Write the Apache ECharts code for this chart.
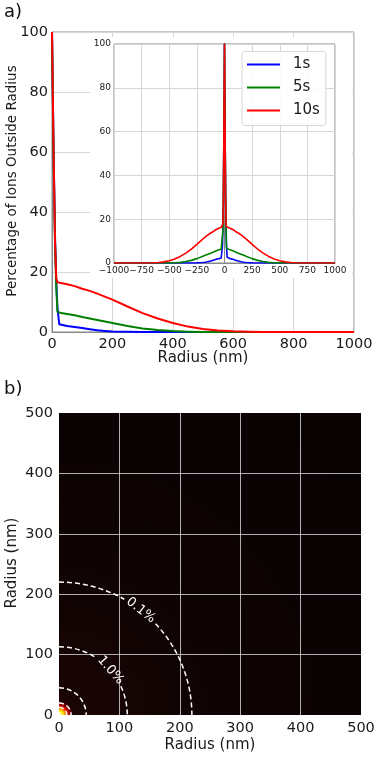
<!DOCTYPE html>
<html><head><meta charset="utf-8">
<script src="https://cdn.jsdelivr.net/npm/echarts@6/dist/echarts.min.js"></script>
<style>html,body{margin:0;padding:0;background:#fff}#c{width:377px;height:757px}</style>
</head><body><div id="c"></div>
<script>
// ---- data ----
const radius = [0,5,10,14,18,24,30,50,75,100,125,150,175,200,250,300,350,400,450,500,550,600,650,700,800,1000];
const pct1s  = [100,62,32,17,8,2.6,2.3,2.0,1.7,1.3,0.9,0.55,0.35,0.2,0.06,0.02,0,0,0,0,0,0,0,0,0,0];
const pct5s  = [100,60,30,15,6.8,6.4,6.3,6.0,5.6,5.0,4.5,4.0,3.5,3.0,2.0,1.2,0.65,0.3,0.12,0.04,0.01,0,0,0,0,0];
const pct10s = [100,62,30,18,16.6,16.4,16.3,15.9,15.3,14.4,13.7,12.8,11.8,10.8,8.5,6.3,4.5,3.0,1.8,1.0,0.5,0.22,0.08,0.02,0,0];
const seriesNames = ['1s','5s','10s'];
const heatRingRadius = [710,600,500,420,350,290,240,190,150,110,80,55,35,22,18,15,12,9,5];
const heatRingValue  = [0,0.02,0.04,0.07,0.1,0.13,0.16,0.2,0.24,0.28,0.32,0.36,0.4,0.5,0.6,0.7,0.8,0.9,1.0];
const contourRadius = [220,113,45,20,13];
const contourLabels = ['0.1%','1.0%','','',''];

// ---- build ----
const colors = ['#0000ff','#008000','#ff0000'];
const allPct = [pct1s, pct5s, pct10s];
const FONT = 'DejaVu Sans';
const mainData = allPct.map(p => radius.map((r,i)=>[r,p[i]]));
const insetData = allPct.map(p => {
  const neg = radius.slice(1).map((r,i)=>[-r,p[i+1]]).reverse();
  return neg.concat(radius.map((r,i)=>[r,p[i]]));
});
const labelAngleDeg = {0:52, 1:41};
const labelGap = {0:0.15, 1:0.28};

const series = [];
mainData.forEach((d,i)=>series.push({
  name: seriesNames[i], type:'line', xAxisIndex:0, yAxisIndex:0, data:d,
  showSymbol:false, symbol:'none', lineStyle:{color:colors[i], width:2, join:'round'}, itemStyle:{color:colors[i]},
  emphasis:{disabled:true}, silent:true, z:2
}));
insetData.forEach((d,i)=>series.push({
  name: seriesNames[i], type:'line', xAxisIndex:1, yAxisIndex:1, data:d,
  showSymbol:false, symbol:'none', lineStyle:{color:colors[i], width:1.6, join:'round'}, itemStyle:{color:colors[i]},
  emphasis:{disabled:true}, silent:true, z:7
}));
function clipOf(params){
  const c = params.coordSys;
  return {type:'rect', shape:{x:c.x, y:c.y, width:c.width, height:c.height}};
}
series.push({
  type:'custom', coordinateSystem:'cartesian2d', xAxisIndex:2, yAxisIndex:2, silent:true, z:2,
  data: heatRingRadius.map((r,i)=>[r, heatRingValue[i]]),
  encode:{x:0, y:1},
  renderItem:function(params, api){
    const c = api.coord([0,0]);
    const rr = api.size([api.value(0),0])[0];
    return {type:'sector', shape:{cx:c[0], cy:c[1], r0:0, r:rr, startAngle:-Math.PI/2, endAngle:0, clockwise:true},
      style:{fill: api.visual('color')}, clipPath: clipOf(params)};
  }
});
series.push({
  type:'custom', coordinateSystem:'cartesian2d', xAxisIndex:2, yAxisIndex:2, silent:true, z:5,
  data: contourRadius.map((r,i)=>[r,i]),
  encode:{x:0, y:1},
  renderItem:function(params, api){
    const c = api.coord([0,0]);
    const R = api.size([api.value(0),0])[0];
    const idx = api.value(1);
    const st = {stroke:'#ffffff', lineWidth:1.5, lineDash:[5,3], fill:'none'};
    const children = [];
    const lab = contourLabels[idx];
    if (lab) {
      const th = labelAngleDeg[idx]*Math.PI/180, g = labelGap[idx];
      children.push({type:'arc', shape:{cx:c[0], cy:c[1], r:R, startAngle:-Math.PI/2, endAngle:-(th+g), clockwise:true}, style:st});
      children.push({type:'arc', shape:{cx:c[0], cy:c[1], r:R, startAngle:-(th-g), endAngle:0, clockwise:true}, style:st});
      children.push({type:'text', x:c[0]+R*Math.cos(th), y:c[1]-R*Math.sin(th), rotation:(th-Math.PI/2),
        style:{text:lab, fill:'#ffffff', font:'13px "'+FONT+'"', align:'center', verticalAlign:'middle'}});
    } else {
      children.push({type:'arc', shape:{cx:c[0], cy:c[1], r:R, startAngle:-Math.PI/2, endAngle:0, clockwise:true}, style:st});
    }
    return {type:'group', children:children, clipPath: clipOf(params)};
  }
});

const frame = '#888888';
const gridC = '#d6d6d6';
const plain = v => String(v).replace('-','\u2212');
const option = {
  animation:false,
  textStyle:{fontFamily:FONT},
  grid:[
    {left:52, top:32, width:302, height:300, show:true, borderColor:frame, borderWidth:1, z:0, outerBoundsMode:'none'},
    {left:114, top:44, width:221, height:219, show:true, borderColor:frame, borderWidth:1, z:6, outerBoundsMode:'none'},
    {left:59, top:413, width:302, height:302, show:false, outerBoundsMode:'none'}
  ],
  xAxis:[
    {gridIndex:0, type:'value', min:0, max:1000, interval:200,
      axisLine:{show:true, lineStyle:{color:frame}}, axisTick:{show:false},
      axisLabel:{fontSize:14.5, color:'#1a1a1a', margin:5, fontFamily:FONT, formatter:plain},
      splitLine:{show:true, lineStyle:{color:gridC, width:1}}},
    {gridIndex:1, type:'value', min:-1000, max:1000, interval:250, z:6,
      axisLine:{show:true, lineStyle:{color:frame}}, axisTick:{show:false},
      axisLabel:{fontSize:9, color:'#1a1a1a', margin:3, fontFamily:FONT, formatter:plain},
      splitLine:{show:true, lineStyle:{color:gridC, width:1}}},
    {gridIndex:2, type:'value', min:0, max:500, interval:100, z:3,
      axisLine:{show:false}, axisTick:{show:false},
      axisLabel:{fontSize:14.5, color:'#1a1a1a', margin:6, fontFamily:FONT, formatter:plain},
      splitLine:{show:true, showMinLine:false, showMaxLine:false, lineStyle:{color:'rgba(205,205,205,0.85)', width:1}}}
  ],
  yAxis:[
    {gridIndex:0, type:'value', min:0, max:100, interval:20,
      axisLine:{show:true, lineStyle:{color:frame}}, axisTick:{show:false},
      axisLabel:{fontSize:14.5, color:'#1a1a1a', margin:4, fontFamily:FONT, formatter:plain},
      splitLine:{show:true, lineStyle:{color:gridC, width:1}}},
    {gridIndex:1, type:'value', min:0, max:100, interval:20, z:6,
      axisLine:{show:true, lineStyle:{color:frame}}, axisTick:{show:false},
      axisLabel:{fontSize:9, color:'#1a1a1a', margin:3, fontFamily:FONT, formatter:plain},
      splitLine:{show:true, lineStyle:{color:gridC, width:1}}},
    {gridIndex:2, type:'value', min:0, max:500, interval:100, z:3,
      axisLine:{show:false}, axisTick:{show:false},
      axisLabel:{fontSize:14.5, color:'#1a1a1a', margin:6, fontFamily:FONT, formatter:plain},
      splitLine:{show:true, showMinLine:false, showMaxLine:false, lineStyle:{color:'rgba(205,205,205,0.85)', width:1}}}
  ],
  visualMap:{type:'continuous', show:false, seriesIndex:6, dimension:1, min:0, max:1,
    inRange:{color:['#090203','#0e0303','#130404','#170404','#1c0505','#5a0000','#b00000','#ff1a00','#ff8c00','#ffe000','#ffffb0']}},
  legend:{
    data:seriesNames, orient:'vertical', left:242, top:51.5, z:10,
    icon:'rect', itemWidth:33, itemHeight:2, itemGap:7,
    padding:[5,6,7,5], backgroundColor:'rgba(255,255,255,0.9)', borderColor:'#d8d8d8', borderWidth:1, borderRadius:3,
    textStyle:{fontSize:15, color:'#1a1a1a', fontFamily:FONT, lineHeight:16, padding:[0,0,0,8]},
    selectedMode:false
  },
  graphic:{elements:[
    {type:'rect', shape:{x:90, y:37, width:262, height:241}, style:{fill:'#ffffff'}, z:1, silent:true},
    {type:'text', x:4, y:3, style:{text:'a)', font:'18px "'+FONT+'"', fill:'#111'}, z:10},
    {type:'text', x:4, y:380, style:{text:'b)', font:'18px "'+FONT+'"', fill:'#111'}, z:10},
    {type:'text', x:12.5, y:181, rotation:Math.PI/2, style:{text:'Percentage of Ions Outside Radius', font:'13.5px "'+FONT+'"', fill:'#1a1a1a', align:'center', verticalAlign:'middle'}, z:10},
    {type:'text', x:203, y:358, style:{text:'Radius (nm)', font:'15px "'+FONT+'"', fill:'#1a1a1a', align:'center', verticalAlign:'middle'}, z:10},
    {type:'text', x:12.5, y:563, rotation:Math.PI/2, style:{text:'Radius (nm)', font:'15px "'+FONT+'"', fill:'#1a1a1a', align:'center', verticalAlign:'middle'}, z:10},
    {type:'text', x:210, y:745, style:{text:'Radius (nm)', font:'15px "'+FONT+'"', fill:'#1a1a1a', align:'center', verticalAlign:'middle'}, z:10}
  ]},
  series:series
};
const chart = echarts.init(document.getElementById('c'), null, {renderer:'canvas'});
chart.setOption(option);
</script>
</body></html>
